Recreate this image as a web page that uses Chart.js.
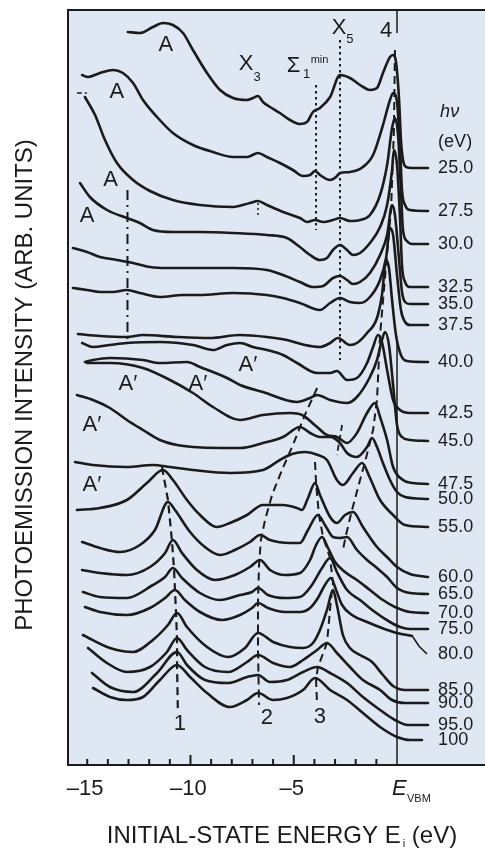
<!DOCTYPE html>
<html lang="en">
<head>
<meta charset="UTF-8">
<title>Photoemission spectra vs photon energy</title>
<script src="https://cdn.jsdelivr.net/npm/chart.js"></script>
<style>
  body { margin: 0; background: #fff; }
  canvas { display: block; }
</style>
</head>
<body>
<canvas id="spectra" width="485" height="849"></canvas>
<script>
// photon energies hv (eV), top spectrum first
const hvLabels = ['25.0', '27.5', '30.0', '32.5', '35.0', '37.5', '40.0', '42.5', '45.0', '47.5',
  '50.0', '55.0', '60.0', '65.0', '70.0', '75.0', '80.0', '85.0', '90.0', '95.0', '100'];

// x-axis ticks (eV)
const tickValues = [-15, -10, -5];

// spectra: [initial-state energy (eV), intensity (arb. units, offset stack)]
const hv25 = [[-13.03,733],[-12.45,732],[-11.82,738],[-11.33,742],[-10.85,740],[-10.36,732],[-9.88,715],[-9.20,692],[-8.57,675],[-7.94,667],[-7.26,665],[-6.97,667],[-6.73,669],[-6.49,663],[-6.15,658],[-5.67,652],[-5.18,645],[-4.70,641],[-4.36,643],[-4.07,653],[-3.73,657],[-3.24,668],[-2.76,690],[-2.28,687],[-1.79,680],[-1.31,675],[-0.97,677],[-0.68,692],[-0.34,708],[-0.19,710],[-0.05,703],[0.10,665],[0.19,625],[0.29,605],[0.44,598],[0.73,597],[1.50,597]];
const hv27_5 = [[-15.25,690],[-14.96,688],[-14.38,692],[-13.75,695],[-13.27,692],[-12.78,682],[-12.30,665],[-11.62,648],[-10.85,632],[-9.88,620],[-8.91,613],[-7.94,608],[-7.26,608],[-6.73,612],[-6.30,608],[-5.67,602],[-5.04,595],[-4.55,589],[-4.21,590],[-3.97,594],[-3.73,590],[-3.24,585],[-2.95,588],[-2.76,592],[-2.28,593],[-1.65,598],[-1.16,610],[-0.68,640],[-0.34,665],[-0.19,672],[0,663],[0.15,615],[0.24,575],[0.39,560],[0.63,555],[1.50,554]];
const hv30 = [[-15.11,668],[-14.62,650],[-14.14,625],[-13.56,602],[-12.78,585],[-11.96,574],[-10.85,565],[-9.54,560],[-7.94,558],[-7.12,562],[-6.73,564],[-6.30,560],[-5.52,553],[-4.70,547],[-4.36,543],[-3.97,545],[-3.58,543],[-3.10,545],[-2.76,547],[-2.28,544],[-1.79,545],[-1.31,550],[-0.82,570],[-0.48,600],[-0.24,637],[-0.10,647],[0.05,630],[0.19,575],[0.29,535],[0.48,524],[0.73,521],[1.50,521]];
const hv32_5 = [[-15.35,582],[-14.87,568],[-14.04,555],[-13.08,547],[-12.45,542],[-11.82,535],[-10.85,533],[-9.54,533],[-7.94,532],[-6.30,530],[-5.33,527],[-4.70,518],[-4.21,510],[-3.73,505],[-3.39,507],[-3.10,515],[-2.76,520],[-2.42,515],[-2.13,510],[-1.79,512],[-1.31,522],[-0.82,538],[-0.48,560],[-0.24,595],[-0.15,615],[0,600],[0.15,545],[0.24,500],[0.39,483],[0.63,478],[1.50,478]];
const hv35 = [[-15.69,517],[-15.01,513],[-14.38,508],[-13.56,505],[-12.78,502],[-11.96,498],[-11.14,497],[-9.54,497],[-7.94,497],[-6.30,495],[-5.52,490],[-4.70,483],[-4.07,478],[-3.58,479],[-3.10,487],[-2.76,489],[-2.42,485],[-2.13,481],[-1.79,483],[-1.31,492],[-0.82,510],[-0.48,530],[-0.24,560],[-0.10,550],[0.10,505],[0.24,473],[0.39,463],[0.63,461],[1.50,461]];
const hv37_5 = [[-15.69,477],[-15.01,475],[-14.38,473],[-13.75,473],[-13.08,475],[-12.45,472],[-11.48,468],[-10.36,470],[-9.54,470],[-7.94,472],[-6.30,470],[-5.52,467],[-4.70,462],[-3.73,455],[-3.24,462],[-2.76,467],[-2.28,463],[-1.79,462],[-1.31,468],[-0.82,485],[-0.53,507],[-0.34,537],[-0.19,530],[0,490],[0.19,455],[0.39,443],[0.63,440],[1.50,440]];
const hv40 = [[-15.45,431],[-14.38,429],[-13.08,428],[-12.30,430],[-10.65,428],[-9.06,427],[-7.60,430],[-6.30,428],[-5.33,425],[-4.46,420],[-3.73,418],[-3.24,422],[-2.86,427],[-2.28,420],[-1.94,422],[-1.45,432],[-0.97,447],[-0.73,470],[-0.53,505],[-0.39,497],[-0.24,465],[-0.05,430],[0.19,410],[0.48,404],[1.50,403]];
const hv42_5 = [[-15.25,422],[-14.72,418],[-13.90,420],[-13.08,422],[-11.48,423],[-9.88,420],[-8.91,415],[-8.23,420],[-7.60,422],[-6.97,418],[-6.30,415],[-5.52,410],[-4.84,402],[-3.87,392],[-3.24,392],[-2.91,394],[-2.42,385],[-1.94,387],[-1.45,402],[-1.16,418],[-0.92,430],[-0.73,423],[-0.48,395],[-0.19,365],[0.15,355],[0.63,352],[1.50,352]];
const hv45 = [[-15.11,403],[-14.72,405],[-13.90,407],[-12.30,405],[-11.48,402],[-10.17,403],[-9.54,398],[-8.23,387],[-7.60,380],[-6.49,373],[-4.84,363],[-4.21,367],[-3.87,370],[-3.24,365],[-2.42,362],[-1.94,368],[-1.31,388],[-0.97,405],[-0.73,425],[-0.58,433],[-0.39,420],[-0.19,380],[0,340],[0.24,328],[0.63,325],[1.50,324]];
const hv47_5 = [[-15.01,402],[-13.90,402],[-12.30,397],[-10.99,385],[-9.88,372],[-8.91,358],[-7.60,345],[-6.49,350],[-5.18,352],[-4.60,350],[-3.87,338],[-3.39,330],[-2.91,328],[-2.42,322],[-1.94,332],[-1.45,352],[-1.07,362],[-0.82,348],[-0.48,325],[-0.19,298],[0.29,285],[0.77,282],[1.50,281]];
const hv50 = [[-15.50,370],[-14.72,365],[-13.90,357],[-13.08,345],[-12.30,335],[-11.48,325],[-10.65,320],[-9.88,318],[-8.57,317],[-7.60,317],[-6.49,322],[-5.52,328],[-4.70,338],[-4.21,332],[-3.73,328],[-3.24,328],[-2.76,322],[-2.42,312],[-1.94,308],[-1.45,318],[-1.21,327],[-0.97,318],[-0.68,302],[-0.34,285],[0,273],[0.39,268],[1.50,266]];
const hv55 = [[-15.59,303],[-14.72,300],[-13.08,298],[-11.82,300],[-10.99,298],[-9.88,295],[-8.09,292],[-6.49,295],[-5.67,305],[-5.08,311],[-4.46,313],[-3.83,310],[-3.39,305],[-2.91,285],[-2.62,280],[-2.13,292],[-1.69,302],[-1.31,287],[-0.82,265],[-0.19,250],[0.39,240],[1.50,238]];
const hv60 = [[-15.50,255],[-14.38,257],[-13.08,265],[-12.11,282],[-11.33,295],[-10.85,285],[-10.17,265],[-9.54,250],[-8.72,238],[-8.09,242],[-7.26,250],[-6.49,260],[-5.52,260],[-4.84,257],[-4.60,255],[-4.31,267],[-3.97,282],[-3.73,270],[-3.24,248],[-2.91,242],[-2.52,250],[-2.13,253],[-1.65,238],[-0.97,218],[-0.48,208],[0,198],[0.63,191],[1.50,188]];
const hv65 = [[-15.25,223],[-14.38,217],[-13.41,213],[-12.45,220],[-11.72,235],[-11.09,263],[-10.75,255],[-10.02,233],[-9.30,218],[-8.57,210],[-7.85,215],[-7.12,223],[-6.63,230],[-6.15,225],[-5.18,222],[-4.70,222],[-4.31,235],[-3.83,250],[-3.49,240],[-3.10,228],[-2.76,227],[-2.42,228],[-1.94,215],[-1.45,205],[-0.97,197],[-0.48,188],[0,177],[0.63,172],[1.50,171]];
const hv70 = [[-15.25,195],[-14.38,192],[-13.08,190],[-11.96,198],[-11.23,212],[-10.85,225],[-10.41,212],[-9.69,195],[-8.81,185],[-7.85,190],[-7.12,198],[-6.63,205],[-6.15,195],[-5.42,190],[-4.70,192],[-4.21,205],[-3.92,220],[-3.63,228],[-3.34,217],[-3.00,203],[-2.52,193],[-1.94,185],[-1.31,175],[-0.68,165],[-0.10,158],[0.63,153],[1.50,152]];
const hv75 = [[-15.21,173],[-14.38,168],[-13.08,167],[-11.82,180],[-11.23,188],[-10.85,197],[-10.41,187],[-9.54,172],[-8.57,165],[-7.60,170],[-7.02,173],[-6.73,177],[-6.25,170],[-5.42,167],[-4.70,168],[-4.12,180],[-3.63,197],[-3.24,207],[-2.91,193],[-2.42,175],[-1.79,165],[-1.07,153],[-0.34,143],[0.15,138],[0.63,136],[1.50,136]];
const hv80 = [[-15.11,158],[-14.38,153],[-13.08,150],[-11.96,157],[-11.23,167],[-10.75,175],[-10.27,165],[-9.54,153],[-8.47,145],[-7.60,150],[-7.02,157],[-6.73,162],[-6.25,157],[-5.42,153],[-4.70,153],[-4.21,157],[-3.83,167],[-3.49,180],[-3.20,187],[-2.95,175],[-2.66,160],[-2.18,150],[-1.45,143],[-0.73,137],[0,132],[0.73,129]];
const hv85 = [[-15.21,130],[-13.90,117],[-12.78,113],[-11.82,125],[-11.09,140],[-10.65,152],[-10.17,138],[-9.20,118],[-8.18,108],[-7.36,117],[-6.73,132],[-6.00,123],[-5.18,118],[-4.55,117],[-4.07,122],[-3.73,135],[-3.39,155],[-3.10,175],[-2.91,160],[-2.62,130],[-2.28,117],[-1.79,110],[-1.21,103],[-0.68,90],[-0.19,79],[0.39,75],[1.50,75]];
const hv90 = [[-14.96,117],[-14.04,102],[-13.08,93],[-11.96,98],[-11.14,113],[-10.65,127],[-10.17,115],[-9.30,98],[-8.18,93],[-7.26,103],[-6.73,110],[-6.00,102],[-5.18,98],[-4.55,105],[-3.87,115],[-3.39,122],[-2.91,112],[-2.28,98],[-1.65,85],[-0.82,75],[-0.24,65],[0.39,62],[1.50,62]];
const hv95 = [[-14.77,92],[-13.90,78],[-12.78,73],[-11.62,92],[-10.65,113],[-10.17,100],[-9.30,85],[-8.18,82],[-7.26,88],[-6.73,90],[-6.15,83],[-5.33,85],[-4.55,93],[-3.87,98],[-3.24,92],[-2.42,82],[-1.65,68],[-0.82,55],[-0.10,45],[0.53,40],[1.50,40]];
const hv100 = [[-14.72,77],[-13.90,68],[-13.08,65],[-12.30,68],[-11.48,85],[-10.65,100],[-10.02,88],[-9.20,72],[-8.09,58],[-7.26,65],[-6.73,72],[-6.00,65],[-5.33,67],[-4.55,75],[-3.97,87],[-3.24,75],[-2.42,65],[-1.65,52],[-0.82,38],[0,28],[0.63,25],[1.21,25]];

const spectra = [hv25, hv27_5, hv30, hv32_5, hv35, hv37_5, hv40, hv42_5, hv45, hv47_5,
  hv50, hv55, hv60, hv65, hv70, hv75, hv80, hv85, hv90, hv95, hv100];

// leader from the 80.0 spectrum down to its label
const leader80 = [[0.77,128],[1.06,119],[1.45,111]];

// dispersion guides (peaks 1, 2, 3, 4)
const guide1 = [[-11.38,298],[-11.09,265],[-10.90,225],[-10.80,197],[-10.75,175],[-10.70,152],[-10.65,125],[-10.65,98],[-10.61,53]];
const guide2 = [[-3.87,377],[-4.46,350],[-5.04,320],[-5.57,295],[-6.05,270],[-6.39,245],[-6.59,225],[-6.68,200],[-6.73,165],[-6.73,115],[-6.68,60]];
const guide3 = [[-3.97,303],[-3.92,282],[-3.78,250],[-3.58,228],[-3.24,207],[-3.10,182],[-3.20,165],[-3.39,122],[-3.83,98],[-3.92,85],[-3.87,60]];
const guide4 = [[-0.10,715],[-0.15,635],[-0.29,555],[-0.53,500],[-0.82,430],[-0.97,365],[-1.16,335],[-1.55,303],[-1.79,285],[-2.18,255],[-2.47,230],[-2.62,215]];
const guide5 = [[-2.66,340],[-2.91,310]];

// critical-point markers
const sigmaLine = [[-3.92,680],[-3.92,535]];
const x5Line = [[-2.76,725],[-2.76,405]];
const x3Line = [[-6.73,562],[-6.73,550]];
const aLine = [[-13.05,575],[-13.05,425]];
const lead30 = [[-15.50,672],[-14.96,672]];

const ink = '#1b1b1b';
const family = '"Liberation Sans", Arial, sans-serif';

const pts = arr => arr.map(([x, y]) => ({ x, y }));

const datasets = [];
spectra.forEach((s, i) => {
  datasets.push({
    label: hvLabels[i],
    data: pts(s),
    borderColor: ink,
    borderWidth: 2.6,
    cubicInterpolationMode: 'monotone',
    borderCapStyle: 'round',
    borderJoinStyle: 'round',
    pointRadius: 0,
    fill: false
  });
});

function guide(arr, dash, width) {
  return { data: pts(arr), borderColor: ink, borderWidth: width, borderDash: dash, tension: 0, pointRadius: 0, fill: false };
}
datasets.push(guide(leader80, [], 1.6));
datasets.push(guide(guide1, [8, 5], 2.2));
datasets.push(guide(guide2, [8, 5], 2));
datasets.push(guide(guide3, [8, 5], 2));
datasets.push(guide(guide4, [8, 5], 2));
datasets.push(guide(guide5, [6, 4], 1.8));
datasets.push(guide(sigmaLine, [2.5, 3.5], 2));
datasets.push(guide(x5Line, [2.5, 3.5], 2));
datasets.push(guide(x3Line, [2, 3], 1.5));
datasets.push(guide(aLine, [10, 5, 2, 5], 2));
datasets.push(guide(lead30, [5, 3, 2, 3], 1.5));

const decor = {
  id: 'decor',
  beforeDraw(chart) {
    const { ctx, chartArea: a } = chart;
    ctx.save();
    ctx.fillStyle = '#fff';
    ctx.fillRect(0, 0, chart.width, chart.height);
    ctx.fillStyle = '#dfe7f3';
    ctx.fillRect(a.left, a.top, a.right - a.left, a.bottom - a.top);
    ctx.restore();
  },
  afterDraw(chart) {
    const { ctx, chartArea: a, scales: { x, y } } = chart;
    const px = v => x.getPixelForValue(v);
    const py = v => y.getPixelForValue(v);
    ctx.save();
    ctx.strokeStyle = ink;
    ctx.fillStyle = ink;

    // frame
    ctx.lineWidth = 2;
    ctx.beginPath();
    ctx.moveTo(a.right, a.top);
    ctx.lineTo(a.left, a.top);
    ctx.lineTo(a.left, a.bottom);
    ctx.lineTo(a.right, a.bottom);
    ctx.stroke();

    // E_VBM marker line
    ctx.lineWidth = 1.5;
    ctx.beginPath();
    ctx.moveTo(px(0), a.top);
    ctx.lineTo(px(0), py(732));
    ctx.moveTo(px(0), py(425));
    ctx.lineTo(px(0), a.bottom);
    ctx.stroke();

    // inward ticks, 1 eV apart
    ctx.lineWidth = 2;
    for (let v = -15; v <= -1; v++) {
      const len = (v === -10 || v === -5) ? 10 : 6;
      ctx.beginPath();
      ctx.moveTo(px(v), a.bottom);
      ctx.lineTo(px(v), a.bottom - len);
      ctx.stroke();
    }

    // tick labels
    ctx.font = `22px ${family}`;
    ctx.textAlign = 'center';
    ctx.textBaseline = 'alphabetic';
    tickValues.forEach(v => ctx.fillText('\u2013' + Math.abs(v), px(v) - 2, a.bottom + 30));
    ctx.textAlign = 'left';
    ctx.font = `italic 22px ${family}`;
    ctx.fillText('E', px(0) - 5, a.bottom + 30);
    ctx.font = `11px ${family}`;
    ctx.fillText('VBM', px(0) + 10, a.bottom + 37);

    // x title with subscript
    const t1 = 'INITIAL-STATE ENERGY E', t2 = 'i', t3 = ' (eV)';
    ctx.font = `24px ${family}`;
    const w1 = ctx.measureText(t1).width, w3 = ctx.measureText(t3).width;
    ctx.font = `11px ${family}`;
    const w2 = ctx.measureText(t2).width + 2;
    let x0 = 282 - (w1 + w2 + w3) / 2;
    ctx.font = `24px ${family}`;
    ctx.fillText(t1, x0, 843);
    ctx.font = `11px ${family}`;
    ctx.fillText(t2, x0 + w1 + 2, 847);
    ctx.font = `24px ${family}`;
    ctx.fillText(t3, x0 + w1 + w2, 843);

    // y title
    ctx.save();
    ctx.translate(32, 385);
    ctx.rotate(-Math.PI / 2);
    ctx.textAlign = 'center';
    ctx.font = `24px ${family}`;
    ctx.fillText('PHOTOEMISSION INTENSITY (ARB. UNITS)', 0, 0);
    ctx.restore();

    // feature labels
    ctx.textAlign = 'center';
    ctx.textBaseline = 'middle';
    ctx.font = `22px ${family}`;
    const A = 'A', Ap = 'A\u2032';
    [[A, -11.19, 720], [A, -13.56, 673], [A, -13.87, 585], [A, -15.01, 549],
     [Ap, -7.22, 400], [Ap, -13.03, 381], [Ap, -9.64, 381], [Ap, -14.77, 340], [Ap, -14.77, 280],
     ['4', -0.53, 734], ['1', -10.51, 41], ['2', -6.30, 47], ['3', -3.73, 48]]
      .forEach(([t, e, i]) => ctx.fillText(t, px(e), py(i)));

    // X3, Sigma1 min, X5
    ctx.fillText('X', px(-7.31), py(701));
    ctx.fillText('\u03A3', px(-5.01), py(699));
    ctx.fillText('X', px(-2.81), py(737));
    ctx.font = `13px ${family}`;
    ctx.fillText('3', px(-7.31) + 11, py(701) + 13);
    ctx.fillText('1', px(-5.01) + 13, py(699) + 8);
    ctx.fillText('5', px(-2.81) + 11, py(737) + 11);
    ctx.font = `11px ${family}`;
    ctx.fillText('min', px(-5.01) + 26, py(699) - 6);

    // photon-energy labels at the spectrum tails
    ctx.textAlign = 'left';
    ctx.font = `18px ${family}`;
    const lx = px(1.99);
    spectra.forEach((s, i) => {
      const level = hvLabels[i] === '80.0' ? leader80[leader80.length - 1][1] : s[s.length - 1][1];
      ctx.fillText(hvLabels[i], lx, py(level));
    });
    ctx.font = `italic 18px ${family}`;
    ctx.fillText('h\u03BD', lx + 2, py(653));
    ctx.font = `18px ${family}`;
    ctx.fillText('(eV)', lx, py(623));
    ctx.restore();
  }
};

new Chart(document.getElementById('spectra'), {
  type: 'line',
  data: { datasets },
  options: {
    responsive: false,
    animation: false,
    devicePixelRatio: 1,
    layout: { padding: { left: 68, top: 10, right: 0, bottom: 84 } },
    plugins: { legend: { display: false }, tooltip: { enabled: false } },
    scales: {
      x: { type: 'linear', display: false, min: -15.93, max: 4.26 },
      y: { type: 'linear', display: false, min: 0, max: 755 }
    }
  },
  plugins: [decor]
});
</script>
</body>
</html>
